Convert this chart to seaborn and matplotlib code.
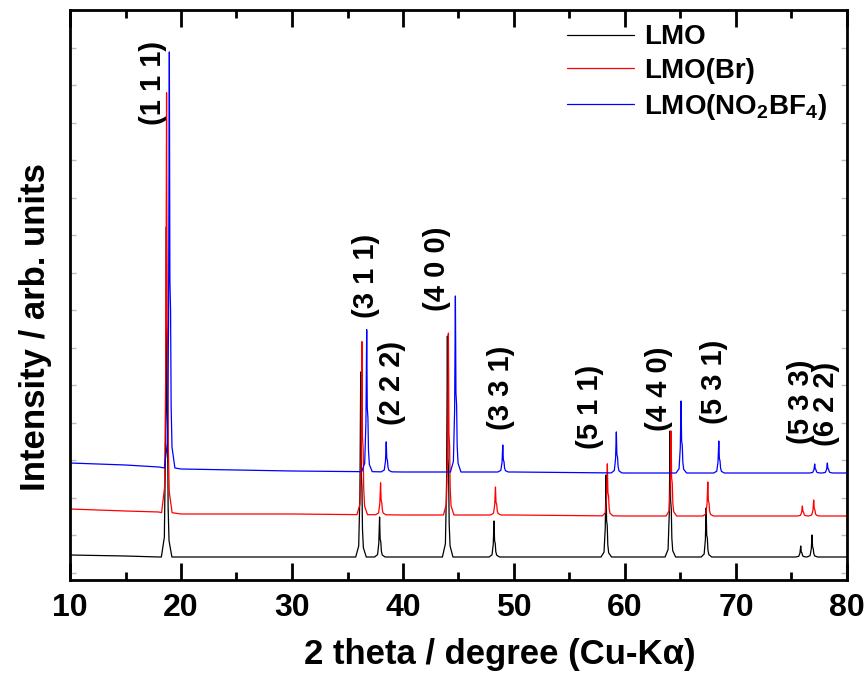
import numpy as np
import pandas as pd
import matplotlib
matplotlib.use('Agg')
import matplotlib.pyplot as plt
import seaborn as sns

# background of each pattern (2 theta, intensity)
bg_x = [10, 15, 18, 20, 30, 40, 50, 60, 70, 80]
bg_lmo = [25, 24, 23, 23, 23, 23, 23, 23, 23, 23]
bg_br = [71, 69, 68, 66, 66, 65, 65, 64, 64, 64]
bg_no2 = [117, 115, 113, 111, 109, 108, 108, 107, 107, 107]

# reflections
hkl = ['(1 1 1)', '(3 1 1)', '(2 2 2)', '(4 0 0)', '(3 3 1)',
       '(5 1 1)', '(4 4 0)', '(5 3 1)', '(5 3 3)', '(6 2 2)']

pos_lmo = [18.68, 36.19, 37.89, 44.00, 48.20, 58.29, 64.06, 67.31, 75.83, 76.85]
h_lmo = [330, 185, 40, 221, 36, 82, 126, 49, 11, 22]

pos_br = [18.70, 36.30, 37.98, 44.09, 48.33, 58.41, 64.15, 67.46, 75.98, 77.00]
h_br = [420, 173, 32, 182, 28, 52, 85, 34, 10, 16]

pos_no2 = [18.95, 36.73, 38.49, 44.72, 48.99, 59.22, 65.05, 68.45, 77.09, 78.23]
h_no2 = [416, 142, 30, 176, 27, 41, 72, 32, 9, 10]

# label positions (2 theta, intensity)
lab_x = [17.5, 36.7, 38.97, 43.1, 48.8, 56.85, 63.07, 68.03, 75.85, 78.15]
lab_y = [497, 304, 197, 311, 192, 173, 191, 198, 178, 176]

samples = ['LMO', 'LMO(Br)', 'LMO(NO$_2$BF$_4$)']
colors = ['black', 'red', 'blue']

# peak profile (offset in degrees, fraction of height), incl. K-alpha2 shoulder
prof_dx = [-0.45, -0.18, -0.07, 0.0, 0.05, 0.11, 0.16, 0.24, 0.5]
prof_f = [0.0, 0.06, 0.35, 1.0, 0.45, 0.38, 0.15, 0.05, 0.0]


def build(bg, pos, h):
    xs, ys = [], []
    # background points away from the peaks
    for bx, by in zip(bg_x, bg):
        if all(abs(bx - p) > 0.5 for p in pos):
            xs.append(bx)
            ys.append(by)
    for p, hh in zip(pos, h):
        base = np.interp(p, bg_x, bg)
        for dx, f in zip(prof_dx, prof_f):
            xs.append(p + dx)
            ys.append(base + f * hh)
    return pd.DataFrame({'x': xs, 'y': ys}).sort_values('x')


frames = []
for name, bg, pos, h in zip(samples, [bg_lmo, bg_br, bg_no2],
                            [pos_lmo, pos_br, pos_no2], [h_lmo, h_br, h_no2]):
    d = build(bg, pos, h)
    d['sample'] = name
    frames.append(d)
df = pd.concat(frames, ignore_index=True)

sns.set_theme(style='ticks')
plt.rcParams['font.family'] = ['Liberation Sans', 'DejaVu Sans']
plt.rcParams['font.weight'] = 'bold'
plt.rcParams['text.color'] = 'black'
plt.rcParams['axes.labelcolor'] = 'black'
plt.rcParams['xtick.color'] = 'black'
plt.rcParams['mathtext.fontset'] = 'custom'
plt.rcParams['mathtext.bf'] = 'Liberation Sans:bold'
plt.rcParams['mathtext.rm'] = 'Liberation Sans:bold'
plt.rcParams['mathtext.default'] = 'bf'

fig = plt.figure(figsize=(8.66, 6.77), dpi=100)
ax = fig.add_axes([70 / 866, 97 / 677, 777 / 866, 570 / 677])

sns.lineplot(data=df, x='x', y='y', hue='sample', hue_order=samples,
             palette=colors, estimator=None, sort=True, lw=0.9, ax=ax)

for t, x, y in zip(hkl, lab_x, lab_y):
    ax.text(x, y, t, rotation=90, ha='center', va='center',
            fontsize=21, fontweight='bold', color='black')

ax.set_xlim(10, 80)
ax.set_ylim(0, 570)
ax.set_xticks(range(10, 81, 10))
ax.set_xticks(range(15, 80, 10), minor=True)
ax.set_yticks(np.arange(7.5, 570, 37.5))
ax.set_yticklabels([])
ax.tick_params(axis='x', which='major', direction='in', length=12, width=2,
               top=True, labelsize=23, pad=9, colors='black')
ax.tick_params(axis='x', which='minor', direction='in', length=6, width=2, top=True)
ax.tick_params(axis='y', which='major', direction='in', length=4, width=1,
               color='#bbbbbb', right=True)
for lab in ax.get_xticklabels():
    lab.set_fontweight('bold')
for s in ax.spines.values():
    s.set_linewidth(2)
    s.set_color('black')

ax.set_xlabel('2 theta / degree (Cu-Kα)', fontsize=25, fontweight='bold')
ax.xaxis.set_label_coords(0.553, -0.13)
ax.xaxis.label.set_va('center')
ax.set_ylabel('Intensity / arb. units', fontsize=25, fontweight='bold')
ax.yaxis.set_label_coords(-0.045, 0.444)
ax.yaxis.label.set_va('center')

ax.legend(loc='upper left', bbox_to_anchor=(0.64, 0.975), frameon=False,
          prop={'size': 20, 'weight': 'bold'}, handlelength=2.4,
          handletextpad=0.35, labelspacing=0.28,
          borderpad=0, borderaxespad=0, title=None)

fig.savefig('out.png', dpi=100)
